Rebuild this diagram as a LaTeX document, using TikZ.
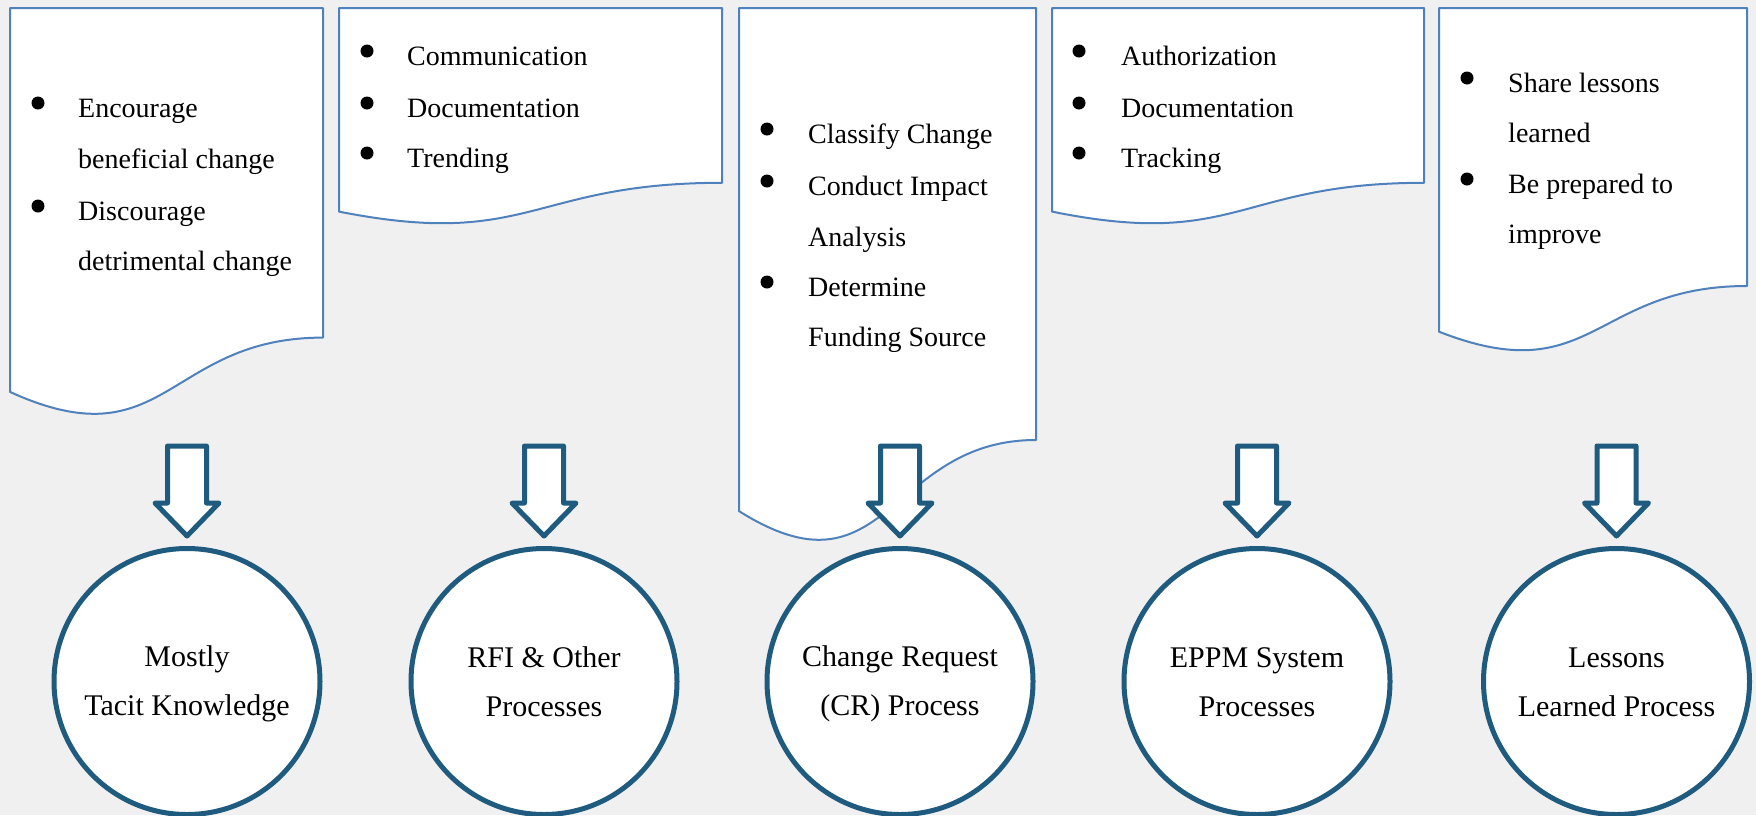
\documentclass[tikz,border=0pt]{standalone}
\usepackage{fontspec}
\setmainfont{Liberation Serif}
\usetikzlibrary{calc}
\definecolor{bg}{HTML}{F0F0F0}
\definecolor{docblue}{HTML}{4F81BD}
\definecolor{dkblue}{HTML}{1F5A7F}
\tikzset{
  docshape/.style={draw=docblue, line width=2pt, fill=white, line join=round},
  itemtext/.style={anchor=base west, inner sep=0pt, font=\rmfamily\fontsize{28}{34}\selectfont},
  bulletdot/.style={fill=black},
  proc/.style={circle, draw=dkblue, line width=5pt, fill=white, minimum size=266pt,
    inner sep=0pt, align=center, font=\rmfamily\fontsize{30}{49}\selectfont},
  barrow/.style={draw=dkblue, line width=5pt, fill=white, line join=round}
}
\newcommand\blockarrow[1]{%
  \draw[barrow] ($(#1.north)+(-19.5,-100)$) -- ($(#1.north)+(19.5,-100)$)
    -- ($(#1.north)+(19.5,-43)$) -- ($(#1.north)+(32,-43)$)
    -- ($(#1.north)+(0,-10)$) -- ($(#1.north)+(-32,-43)$)
    -- ($(#1.north)+(-19.5,-43)$) -- cycle;}
\newcommand\bdot[2]{\fill[bulletdot] (#1,#2-14) circle[radius=6.5];}
\newcommand\toprule{\rule{0pt}{25pt}}
\newcommand\botrule{\rule[-5pt]{0pt}{5pt}}
\begin{document}
\begin{tikzpicture}[x=1pt,y=-1pt]
\fill[bg] (0,0) rectangle (1756,815);
\useasboundingbox (0,0) rectangle (1756,815);

% documents
\draw[docshape] (10,8) -- (323,8) -- (323,337.6) .. controls (166.5,337.6) and (166.5,463.2) .. (10,391.9) -- cycle;
\draw[docshape] (339,8) -- (722,8) -- (722,182.8) .. controls (530.5,182.8) and (530.5,249.4) .. (339,211.6) -- cycle;
\draw[docshape] (739,8) -- (1036,8) -- (1036,440) .. controls (887.5,440) and (887.5,604.5) .. (739,511.1) -- cycle;
\draw[docshape] (1052,8) -- (1424,8) -- (1424,182.8) .. controls (1238,182.8) and (1238,249.4) .. (1052,211.6) -- cycle;
\draw[docshape] (1439,8) -- (1747,8) -- (1747,286) .. controls (1593,286) and (1593,391.9) .. (1439,331.7) -- cycle;

% doc 1 text
\bdot{38}{117}\bdot{38}{220}
\node[itemtext] (d1a) at (78,117) {Encourage};
\node[itemtext] (d1b) at (78,168) {beneficial change};
\node[itemtext] (d1c) at (78,220) {Discourage};
\node[itemtext] (d1d) at (78,270) {detrimental change};

% doc 2 text
\bdot{367}{65}\bdot{367}{117}\bdot{367}{167}
\node[itemtext] (d2a) at (407,65) {Communication};
\node[itemtext] (d2b) at (407,117) {Documentation};
\node[itemtext] (d2c) at (407,167) {Trending};

% doc 3 text
\bdot{767}{143}\bdot{767}{195}\bdot{767}{296}
\node[itemtext] (d3a) at (808,143) {Classify Change};
\node[itemtext] (d3b) at (808,195) {Conduct Impact};
\node[itemtext] (d3c) at (808,246) {Analysis};
\node[itemtext] (d3d) at (808,296) {Determine};
\node[itemtext] (d3e) at (808,346) {Funding Source};

% doc 4 text
\bdot{1079}{65}\bdot{1079}{117}\bdot{1079}{167}
\node[itemtext] (d4a) at (1121,65) {Authorization};
\node[itemtext] (d4b) at (1121,117) {Documentation};
\node[itemtext] (d4c) at (1121,167) {Tracking};

% doc 5 text
\bdot{1467}{92}\bdot{1467}{193}
\node[itemtext] (d5a) at (1508,92) {Share lessons};
\node[itemtext] (d5b) at (1508,142) {learned};
\node[itemtext] (d5c) at (1508,193) {Be prepared to};
\node[itemtext] (d5d) at (1508,243) {improve};

% circles
\node[proc] (c1) at (187,681.5) {\toprule Mostly\\Tacit Knowledge\botrule};
\node[proc] (c2) at (544,681.5) {\toprule RFI \& Other\\Processes\botrule};
\node[proc] (c3) at (900,681.5) {\toprule Change Request\\(CR) Process\botrule};
\node[proc] (c4) at (1257,681.5) {\toprule EPPM System\\Processes\botrule};
\node[proc] (c5) at (1616.5,681.5) {\toprule Lessons\\Learned Process\botrule};

% block arrows
\blockarrow{c1}
\blockarrow{c2}
\blockarrow{c3}
\blockarrow{c4}
\blockarrow{c5}
\end{tikzpicture}
\end{document}
